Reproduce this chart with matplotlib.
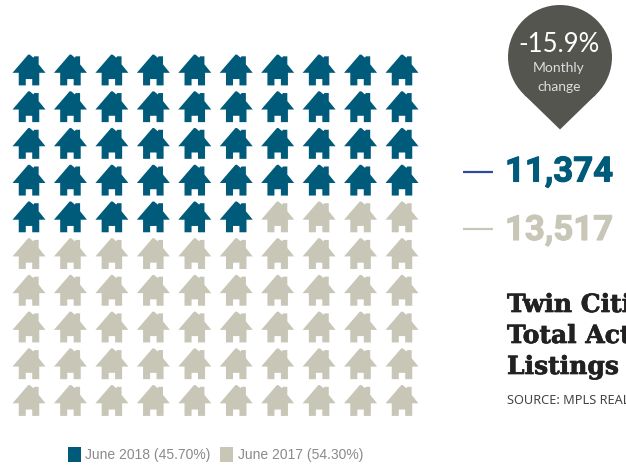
import numpy as np
import matplotlib
matplotlib.use("Agg")
import matplotlib.pyplot as plt
import matplotlib.patheffects as pe
from matplotlib.path import Path
from matplotlib.patches import Circle, Polygon, Rectangle

# listings
labels = ["June 2018", "June 2017"]
listings = [11374, 13517]
shares = [45.70, 54.30]
monthly_change = "-15.9%"
title_lines = ["Twin Cities", "Total Active", "Listings"]
source = "SOURCE: MPLS REALTORS"

BLUE = "#005a7a"
SAND = "#c8c6b7"
W, H = 626, 466

fig = plt.figure(figsize=(W / 100, H / 100), dpi=100)

# whole figure in pixels, y going down
ax = fig.add_axes([0, 0, 1, 1])
ax.set_xlim(0, W)
ax.set_ylim(H, 0)
ax.axis("off")

# house outline, centred on 0, y up
house = Path([
    (-16.4, -2.8), (-0.8, 15.3), (0.8, 15.3), (4.4, 12.2), (5.2, 13.6), (9.6, 13.6), (9.6, 5.6),
    (16.4, -2.8), (10.2, -2.8), (10.2, -15.3), (3.2, -15.3), (3.2, -9.0), (-3.2, -9.0),
    (-3.2, -15.3), (-10.2, -15.3), (-10.2, -2.8), (-16.4, -2.8),
], closed=True)

# one house per percent, filled row by row
n_blue = round(shares[0])
n_sand = round(shares[1])
rows, cols = np.divmod(np.arange(n_blue + n_sand), 10)
colors = [BLUE] * n_blue + [SAND] * n_sand

grid = fig.add_axes([29 / W, 1 - 400.5 / H, (402 - 29) / W, (400.5 - 70) / H])
grid.set_xlim(0, 9)
grid.set_ylim(9, 0)
grid.axis("off")
size = (33 * 72 / 100) ** 2
grid.scatter(cols, rows, marker=house, s=size, c=colors, linewidths=0, clip_on=False)

# pin with the monthly change
cx, cy, r, tip = 560, 57, 52, 129.5
d = tip - cy
a = np.arccos(r / d)
ax.add_patch(Circle((cx, cy), r, fc="#55554f", ec="none"))
ax.add_patch(Polygon([(cx - r * np.sin(a), cy + r * np.cos(a)), (cx, tip),
                      (cx + r * np.sin(a), cy + r * np.cos(a))], fc="#55554f", ec="none"))
ax.text(cx - 1, 44, monthly_change, color="white", fontsize=18.5, family="Lato",
        ha="center", va="center")
ax.text(cx - 1, 68, "Monthly", color="#dddddd", fontsize=10, family="Lato",
        ha="center", va="center")
ax.text(cx - 1, 87, "change", color="#dddddd", fontsize=10, family="Lato",
        ha="center", va="center")

# big numbers
ax.plot([463, 493], [172, 172], color="#2f4a9a", lw=1.6, solid_capstyle="butt")
ax.plot([463, 493], [229, 229], color=SAND, lw=1.6, solid_capstyle="butt")
heavy = [pe.withStroke(linewidth=0.8, foreground=BLUE)]
ax.text(505, 181.5, f"{listings[0]:,}", color=BLUE, fontsize=25, family="Roboto", weight="bold",
        path_effects=heavy)
heavy = [pe.withStroke(linewidth=0.8, foreground=SAND)]
ax.text(505, 240, f"{listings[1]:,}", color=SAND, fontsize=25, family="Roboto", weight="bold",
        path_effects=heavy)

# title runs off the right edge
thick = [pe.withStroke(linewidth=0.5, foreground="#222020")]
for y, line in zip([312, 343, 374], title_lines):
    ax.text(507, y, line, color="#222020", fontsize=18, family="DejaVu Serif", weight="bold",
            path_effects=thick)
ax.text(507, 404, source, color="#444444", fontsize=9.2, family="Noto Sans")

# legend
ax.add_patch(Rectangle((68, 447), 13, 14.5, fc=BLUE, ec="none"))
ax.add_patch(Rectangle((220, 447), 13, 14.5, fc=SAND, ec="none"))
ax.text(85, 455, f"{labels[0]} ({shares[0]:.2f}%)", color="#8a8a8a", fontsize=10,
        family="Liberation Sans", va="center")
ax.text(238, 455, f"{labels[1]} ({shares[1]:.2f}%)", color="#8a8a8a", fontsize=10,
        family="Liberation Sans", va="center")

fig.savefig("out.png", dpi=100)
